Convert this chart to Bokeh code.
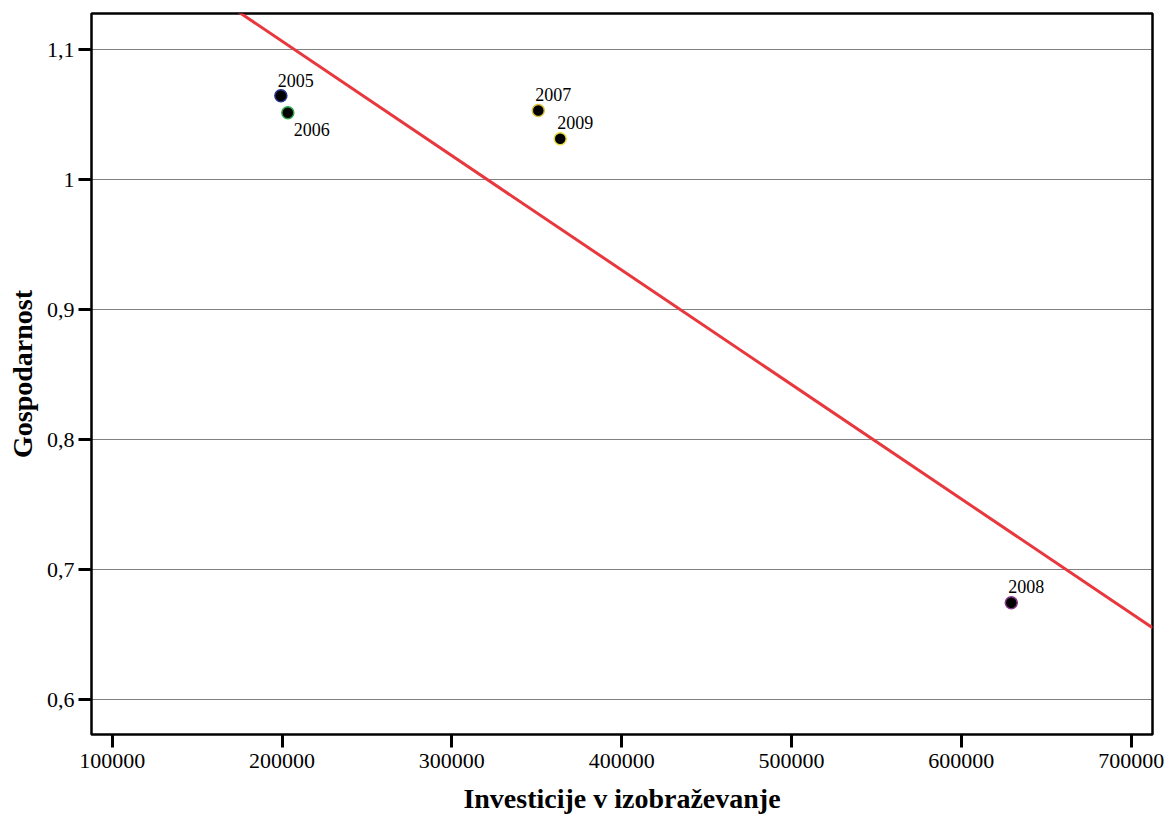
from bokeh.plotting import figure
from bokeh.models import ColumnDataSource, FixedTicker, Range1d
from bokeh.embed import file_html
from bokeh.resources import INLINE
from bokeh.core.properties import value
import numpy as np

# ---- data ----
years = ["2005", "2006", "2007", "2008", "2009"]
investicije = [199300, 203400, 350900, 629400, 363800]
gospodarnost = [1.0646, 1.0515, 1.0533, 0.6746, 1.0315]
outline_colors = ["#26338a", "#2fa84a", "#d8c23a", "#8a3a8c", "#e6dc3a"]

x_ticks = [100000, 200000, 300000, 400000, 500000, 600000, 700000]
y_ticks = [0.6, 0.7, 0.8, 0.9, 1.0, 1.1]
y_tick_labels = ["0,6", "0,7", "0,8", "0,9", "1", "1,1"]

# label placement (screen pixels) – style only
label_dx = [-3, 6, -3, -3, -3]
label_dy = [-15, 17, -16, -16, -16]

FONT = "Liberation Serif"

p = figure(width=1167, height=818, output_backend="svg", toolbar_location=None,
           x_range=Range1d(87800, 712550), y_range=Range1d(0.5733, 1.1279),
           min_border_left=91, min_border_right=15, min_border_top=13, min_border_bottom=84)

p.background_fill_color = "white"
p.border_fill_color = "white"
p.outline_line_color = "black"
p.outline_line_width = 2.5

# grid
p.xgrid.grid_line_color = None
p.ygrid.grid_line_color = "#000000"
p.ygrid.grid_line_width = 1
p.ygrid.grid_line_dash = "1 1"
p.ygrid.ticker = FixedTicker(ticks=y_ticks)

# axes
p.xaxis.ticker = FixedTicker(ticks=x_ticks)
p.yaxis.ticker = FixedTicker(ticks=y_ticks)
p.yaxis.major_label_overrides = {t: l for t, l in zip(y_ticks, y_tick_labels)}
p.xaxis.major_label_overrides = {t: str(t) for t in x_ticks}
for ax in (p.xaxis, p.yaxis):
    ax.axis_line_color = None
    ax.major_tick_line_color = "black"
    ax.major_tick_line_width = 3
    ax.major_tick_in = 0
    ax.major_tick_out = 13
    ax.minor_tick_line_color = None
    ax.major_label_text_font = FONT
    ax.major_label_text_font_size = "22px"
    ax.major_label_text_color = "black"
    ax.axis_label_text_font = FONT
    ax.axis_label_text_font_style = "bold"
    ax.axis_label_text_color = "black"
p.xaxis.axis_label_text_font_size = "28px"
p.yaxis.axis_label_text_font_size = "28px"
p.xaxis.major_label_standoff = 6
p.yaxis.major_label_standoff = 4
p.xaxis.axis_label = "Investicije v izobraževanje"
p.yaxis.axis_label = "Gospodarnost"
p.xaxis.axis_label_standoff = 12
p.yaxis.axis_label_standoff = 6

# regression line (OLS fit of the data)
slope, intercept = np.polyfit(np.array(investicije, float), np.array(gospodarnost, float), 1)
xr = np.array([p.x_range.start, p.x_range.end])
p.line(xr, intercept + slope * xr, line_color="#e8383d", line_width=3)

src = ColumnDataSource(dict(x=investicije, y=gospodarnost, year=years,
                            lc=outline_colors, dx=label_dx, dy=label_dy))
p.scatter("x", "y", source=src, size=12, fill_color="black", line_color="lc", line_width=1.5)
p.text("x", "y", text="year", source=src, x_offset="dx", y_offset="dy",
       text_font=value(FONT), text_font_size="18px", text_color="black",
       text_align="left", text_baseline="alphabetic")

open("out.html", "w").write(file_html(p, INLINE))
